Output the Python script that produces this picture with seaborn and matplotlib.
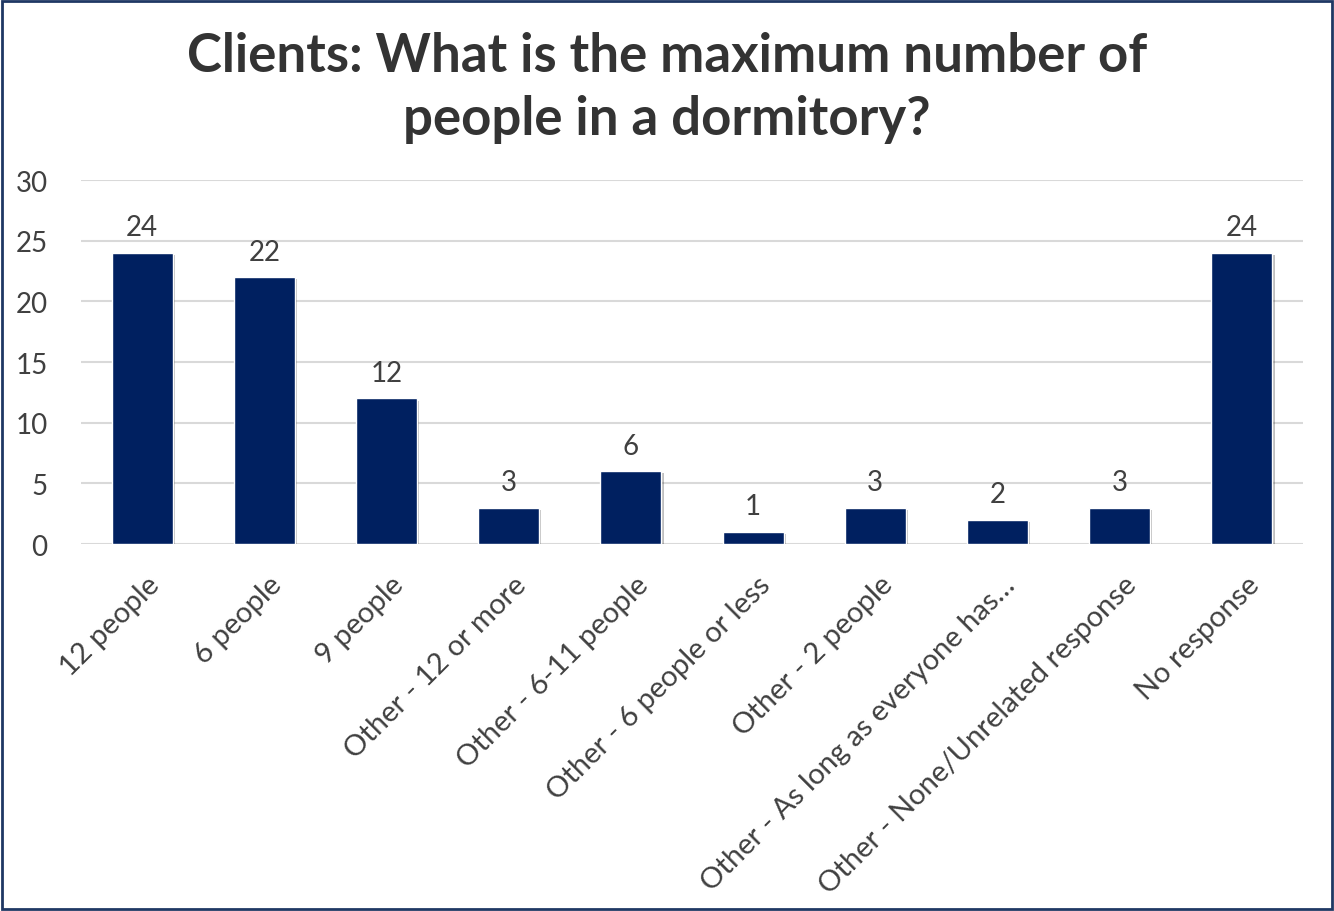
import matplotlib
matplotlib.use("Agg")
import matplotlib.pyplot as plt
import matplotlib.transforms as mtransforms
from matplotlib import patheffects
import seaborn as sns
import pandas as pd

categories = [
    "12 people",
    "6 people",
    "9 people",
    "Other - 12 or more",
    "Other - 6-11 people",
    "Other - 6 people or less",
    "Other - 2 people",
    "Other - As long as everyone has\u2026",
    "Other - None/Unrelated response",
    "No response",
]
counts = [24, 22, 12, 3, 6, 1, 3, 2, 3, 24]
y_ticks = [0, 5, 10, 15, 20, 25, 30]
title = "Clients: What is the maximum number of\npeople in a dormitory?"

sns.set_theme(style="white")
plt.rcParams["font.family"] = ["Lato", "DejaVu Sans"]

df = pd.DataFrame({"category": categories, "count": counts})

fig = plt.figure(figsize=(13.34, 9.12), dpi=100)
ax = fig.add_axes([0.0607, 0.4024, 0.9161, 0.3991])

sns.barplot(data=df, x="category", y="count", color="#002060", width=0.5,
            saturation=1, ax=ax, zorder=3)

for bar in ax.patches:
    bar.set_path_effects([
        patheffects.SimplePatchShadow(offset=(1.5, -1.5), shadow_rgbFace="#000000", alpha=0.25),
        patheffects.Normal(),
    ])

ax.set_ylim(0, 30)
ax.set_xlim(-0.5, len(categories) - 0.5)
ax.set_yticks(y_ticks)
ax.yaxis.grid(True, color="#d9d9d9", linewidth=1.5, zorder=0)
ax.set_axisbelow(True)
for s in ax.spines.values():
    s.set_visible(False)

ax.set_xlabel("")
ax.set_ylabel("")
ax.tick_params(axis="y", length=0, pad=24, labelsize=20, labelcolor="#404040")
ax.tick_params(axis="x", length=0, pad=0, labelsize=21, labelcolor="#404040")

ax.set_xticks(range(len(categories)))
ax.set_xticklabels(categories, rotation=45, ha="right", va="top",
                   rotation_mode="anchor")
offset = mtransforms.ScaledTranslation(0.04, -0.27, fig.dpi_scale_trans)
for lbl in ax.get_xticklabels():
    lbl.set_transform(lbl.get_transform() + offset)

for container in ax.containers:
    ax.bar_label(container, labels=[str(v) for v in counts], padding=9,
                 fontsize=20, color="#404040")

fig.text(0.5, 0.904, title, ha="center", va="center", fontsize=38,
         fontweight="bold", color="#333333", linespacing=1.35)

border = plt.Rectangle((0.0015, 0.002), 0.997, 0.996, transform=fig.transFigure,
                       fill=False, edgecolor="#1F3864", linewidth=2)
fig.patches.append(border)

fig.savefig("out.png", dpi=100, facecolor="white")
